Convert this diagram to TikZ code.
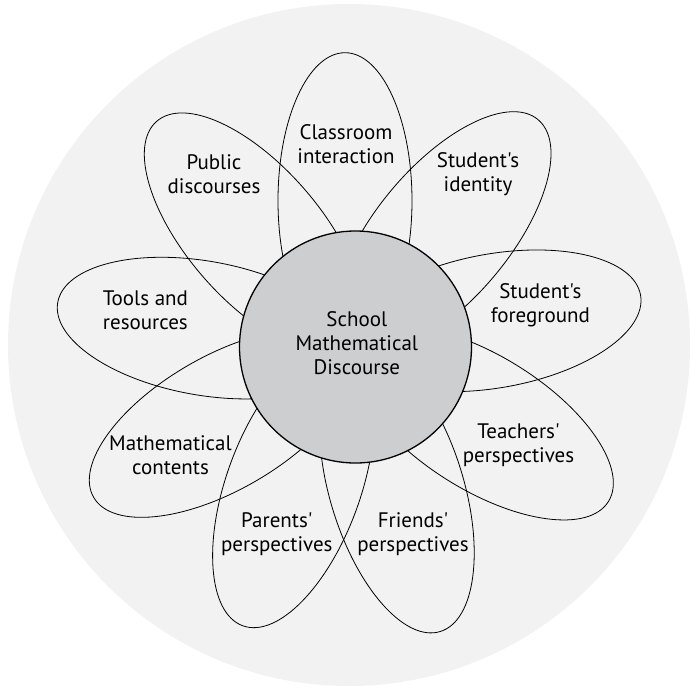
\documentclass[tikz,border=0pt]{standalone}
\usepackage{fontspec}
\newfontfamily\lblfont{PT Sans}
\definecolor{bggray}{RGB}{242,242,242}
\definecolor{coregray}{RGB}{205,206,208}
\begin{document}
\begin{tikzpicture}[x=1pt,y=-1pt,
  petal/.style={draw=black,line width=0.8pt},
  lbl/.style={align=center,font=\lblfont\fontsize{21}{24}\selectfont,inner sep=0pt}]
\useasboundingbox (0,0) rectangle (689,694);
\fill[bggray] (349,345) circle [radius=341];
% petals: centre, rotation
\foreach \cx/\cy/\ang in {345/200.7/90, 253.8/233/131, 442.9/233/50, 494.8/320.8/10, 482.9/423.1/-32, 396.9/490/-73, 293.4/486.7/-110, 221.8/423.3/-150, 203.5/328.1/170}{
  \draw[petal,rotate around={\ang:(\cx,\cy)}] (\cx,\cy) ellipse [x radius=148, y radius=67];
}
\node[circle,draw=black,line width=1.3pt,fill=coregray,minimum size=232pt,inner sep=0pt] (core) at (355.5,347) {};
\node[lbl] (core text) at (356.8,342.7) {School\\Mathematical\\Discourse};
\node[lbl] (classroom) at (346,144) {Classroom\\interaction};
\node[lbl] (public) at (214,174.4) {Public\\discourses};
\node[lbl] (identity) at (478,174.4) {Student's\\identity};
\node[lbl] (tools) at (145.4,310) {Tools and\\resources};
\node[lbl] (foreground) at (540.4,305) {Student's\\foreground};
\node[lbl] (math) at (170.5,454.7) {Mathematical\\contents};
\node[lbl] (teachers) at (518.5,445) {Teachers'\\perspectives};
\node[lbl] (parents) at (276.8,534.3) {Parents'\\perspectives};
\node[lbl] (friends) at (413,533.8) {Friends'\\perspectives};
\end{tikzpicture}
\end{document}
